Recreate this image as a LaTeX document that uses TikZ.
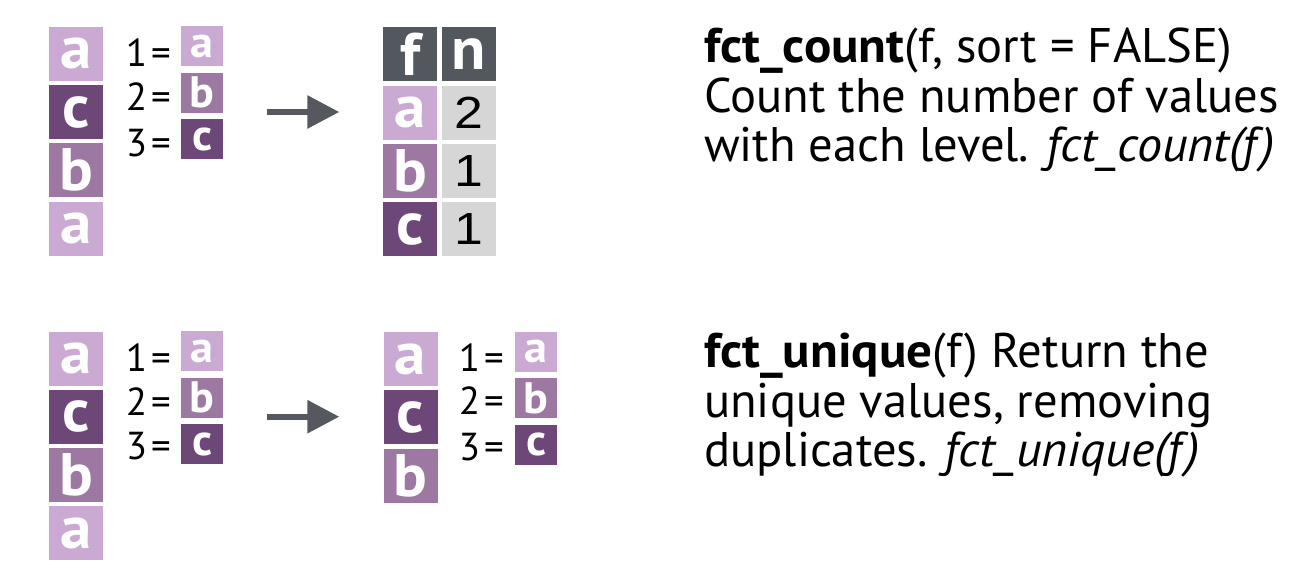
\documentclass[tikz,border=0pt]{standalone}
\usepackage{fontspec}
\setmainfont{PT Sans}[BoldFeatures={FakeStretch=1.05},ItalicFeatures={FakeStretch=1.03}]
\newfontfamily\numfont{Liberation Sans}[FakeStretch=1.15]
\usetikzlibrary{arrows.meta}
\definecolor{lva}{HTML}{CAAAD3}
\definecolor{lvb}{HTML}{9C78A2}
\definecolor{lvc}{HTML}{6C4777}
\definecolor{hdr}{HTML}{53575E}
\definecolor{cnt}{HTML}{D6D6D6}
\definecolor{arrowgray}{HTML}{55585E}
\begin{document}
\begin{tikzpicture}[x=1pt,y=-1pt,
  bigbox/.style={minimum width=54pt,minimum height=54pt,inner sep=0pt,text=white,
    font=\fontsize{60}{60}\selectfont\bfseries},
  smallbox/.style={minimum width=41.7pt,minimum height=40pt,inner sep=0pt,text=white,
    font=\fontsize{44}{44}\selectfont\bfseries},
  cntbox/.style={minimum width=54pt,minimum height=54pt,inner sep=0pt,fill=cnt,text=black,
    font=\numfont\fontsize{45}{45}\selectfont},
  lvlabel/.style={anchor=base east,inner sep=0pt,font=\fontsize{39}{39}\selectfont},
  desc/.style={anchor=base west,inner sep=0pt,font=\fontsize{48.6}{48.6}\selectfont},
  arr/.style={draw=arrowgray,line width=6pt,-{Triangle[length=32pt,width=32pt]}}
]
\useasboundingbox (0,0) rectangle (1316,566);

% ---------- top: fct_count ----------
\node[bigbox,fill=lva] (t1) at (76,53.7) {a};
\node[bigbox,fill=lvc] (t2) at (76,112) {c};
\node[bigbox,fill=lvb] (t3) at (76,170.3) {b};
\node[bigbox,fill=lva] (t4) at (76,228.7) {a};

\node[smallbox,fill=lva] (tl1) at (202,46) {a};
\node[smallbox,fill=lvb] (tl2) at (202,92.7) {b};
\node[smallbox,fill=lvc] (tl3) at (202,139) {c};
\node[lvlabel] (tn1) at (171,66.5) {1\kern4pt=};
\node[lvlabel] (tn2) at (171,110) {2\kern4pt=};
\node[lvlabel] (tn3) at (171,156) {3\kern4pt=};

\coordinate (ta1) at (267.3,112);
\coordinate (ta2) at (339.3,112);
\draw[arr] (ta1) -- (ta2);

\node[bigbox,fill=hdr] (hf) at (410.2,54.2) {f};
\node[bigbox,fill=hdr] (hn) at (468.5,54.2) {n};
\node[bigbox,fill=lva] (ra) at (410.2,112.7) {a};
\node[bigbox,fill=lvb] (rb) at (410.2,170.7) {b};
\node[bigbox,fill=lvc] (rc) at (410.2,229.2) {c};
\node[cntbox] (na) at (468.5,112.7) {2};
\node[cntbox] (nb) at (468.5,170.7) {1};
\node[cntbox] (nc) at (468.5,229.2) {1};

\node[desc] (d1) at (704,62.3) {\textbf{fct\_count}(f, sort = FALSE)};
\node[desc] (d2) at (704,112.3) {Count the number of values};
\node[desc] (d3) at (704,161.7) {with each level. \textit{fct\_count(f)}};

% ---------- bottom: fct_unique ----------
\node[bigbox,fill=lva] (b1) at (76,358.5) {a};
\node[bigbox,fill=lvc] (b2) at (76,416.8) {c};
\node[bigbox,fill=lvb] (b3) at (76,475) {b};
\node[bigbox,fill=lva] (b4) at (76,533.3) {a};

\node[smallbox,fill=lva] (bl1) at (202,351) {a};
\node[smallbox,fill=lvb] (bl2) at (202,397.7) {b};
\node[smallbox,fill=lvc] (bl3) at (202,444.2) {c};
\node[lvlabel] (bn1) at (171,371.7) {1\kern4pt=};
\node[lvlabel] (bn2) at (171,415) {2\kern4pt=};
\node[lvlabel] (bn3) at (171,459) {3\kern4pt=};

\coordinate (ba1) at (267.3,416.7);
\coordinate (ba2) at (339.3,416.7);
\draw[arr] (ba1) -- (ba2);

\node[bigbox,fill=lva] (u1) at (410.5,359) {a};
\node[bigbox,fill=lvc] (u2) at (410.5,417.3) {c};
\node[bigbox,fill=lvb] (u3) at (410.5,476) {b};

\node[smallbox,fill=lva] (ul1) at (536,351.7) {a};
\node[smallbox,fill=lvb] (ul2) at (536,398.3) {b};
\node[smallbox,fill=lvc] (ul3) at (536,444.8) {c};
\node[lvlabel] (un1) at (504,371.7) {1\kern4pt=};
\node[lvlabel] (un2) at (504,414.5) {2\kern4pt=};
\node[lvlabel] (un3) at (504,460) {3\kern4pt=};

\node[desc] (e1) at (704,367.3) {\textbf{fct\_unique}(f) Return the};
\node[desc] (e2) at (704,417.3) {unique values, removing};
\node[desc] (e3) at (704,466.7) {duplicates. \textit{fct\_unique(f)}};
\end{tikzpicture}
\end{document}
